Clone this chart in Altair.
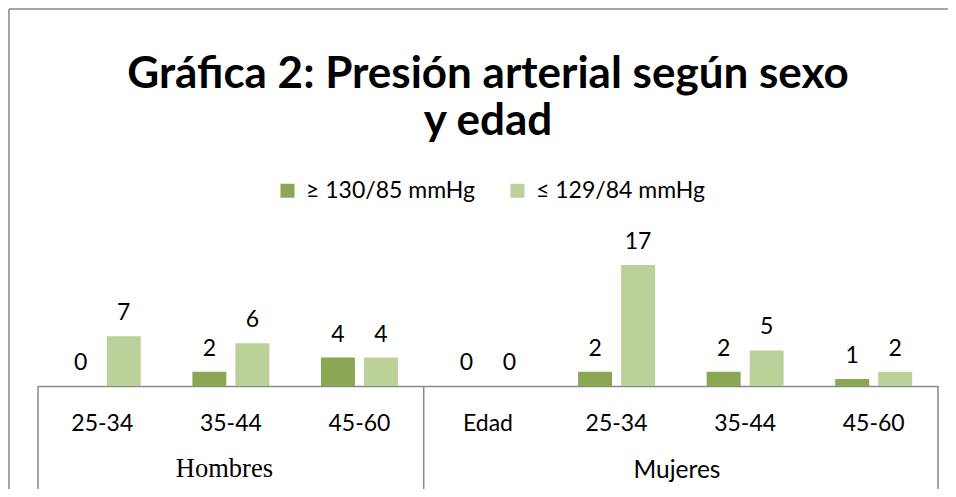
import altair as alt
import pandas as pd

keys = ["H1", "H2", "H3", "M0", "M1", "M2", "M3"]
ages = ["25-34", "35-44", "45-60", "Edad", "25-34", "35-44", "45-60"]
sexo = ["Hombres", "Hombres", "Hombres", "Mujeres", "Mujeres", "Mujeres", "Mujeres"]
alta = [0, 2, 4, 0, 2, 2, 1]
normal = [7, 6, 4, 0, 17, 5, 2]
series = ["≥ 130/85 mmHg", "≤ 129/84 mmHg"]
colors = ["#8BA753", "#BCD19A"]
title_lines = ["Gráfica 2: Presión arterial según sexo", "y edad"]

rows = []
for k, a, s, v1, v2 in zip(keys, ages, sexo, alta, normal):
    rows.append({"key": k, "edad": a, "sexo": s, "serie": series[0], "valor": v1})
    rows.append({"key": k, "edad": a, "sexo": s, "serie": series[1], "valor": v2})
df = pd.DataFrame(rows)

W, H = 900, 121
label_map = "{" + ",".join(f"'{k}':'{a}'" for k, a in zip(keys, ages)) + "}"
xscale = alt.Scale(domain=keys, paddingInner=0, paddingOuter=0)
GREY = "#898989"

x_enc = alt.X("key:N", scale=xscale, sort=keys,
              axis=alt.Axis(title=None, ticks=False, grid=False, labelAngle=0,
                            domainColor=GREY, domainWidth=1.5,
                            labelFont="Lato", labelFontSize=23, labelColor="black",
                            labelPadding=26, labelExpr=label_map + "[datum.value]"))
xoff = alt.XOffset("serie:N", sort=series,
                   scale=alt.Scale(domain=series, paddingInner=0.21, paddingOuter=0.6))
y_enc = alt.Y("valor:Q", scale=alt.Scale(domain=[0, 17], nice=False), axis=None)

bars = alt.Chart(df).mark_bar().encode(
    x=x_enc, xOffset=xoff, y=y_enc,
    color=alt.Color("serie:N", sort=series,
                    scale=alt.Scale(domain=series, range=colors),
                    legend=alt.Legend(title=None, orient="none", legendX=238, legendY=-86,
                                      direction="horizontal", symbolType="square",
                                      symbolSize=196, symbolStrokeWidth=0,
                                      labelFont="Lato", labelFontSize=23, labelColor="black",
                                      labelOffset=7, columnPadding=31, padding=0,
                                      labelLimit=400)),
)

labels = alt.Chart(df).mark_text(font="Lato", fontSize=23, color="black",
                                 baseline="alphabetic", dy=-16).encode(
    x=alt.X("key:N", scale=xscale, sort=keys), xOffset=xoff, y=y_enc,
    text="valor:Q",
)

left_edges = pd.DataFrame({"key": ["H1", "M0"]})
right_edges = pd.DataFrame({"key": ["M3"]})
rule_l = alt.Chart(left_edges).mark_rule(color=GREY, strokeWidth=1.5).encode(
    x=alt.X("key:N", scale=xscale, bandPosition=0),
    y=alt.value(H), y2=alt.value(H + 104))
rule_r = alt.Chart(right_edges).mark_rule(color=GREY, strokeWidth=1.5).encode(
    x=alt.X("key:N", scale=xscale, bandPosition=1),
    y=alt.value(H), y2=alt.value(H + 104))

hombres = alt.Chart(pd.DataFrame({"key": ["H2"], "t": ["Hombres"]})).mark_text(
    font="Liberation Serif", fontSize=26.5, color="black", baseline="alphabetic").encode(
    x=alt.X("key:N", scale=xscale, bandPosition=0.45), y=alt.value(H + 91), text="t:N")
mujeres = alt.Chart(pd.DataFrame({"key": ["M1"], "t": ["Mujeres"]})).mark_text(
    font="Lato", fontSize=24.5, color="black", baseline="alphabetic").encode(
    x=alt.X("key:N", scale=xscale, bandPosition=0.97), y=alt.value(H + 92), text="t:N")

t1 = alt.Chart(pd.DataFrame({"t": [title_lines[0]]})).mark_text(
    font="Lato", fontSize=44, fontWeight="bold", color="black", baseline="alphabetic").encode(
    x=alt.value(W / 2), y=alt.value(-177), text="t:N")
t2 = alt.Chart(pd.DataFrame({"t": [title_lines[1]]})).mark_text(
    font="Lato", fontSize=44, fontWeight="bold", color="black", baseline="alphabetic").encode(
    x=alt.value(W / 2), y=alt.value(-130), text="t:N")

frame_top = alt.Chart(pd.DataFrame({"a": [0]})).mark_rule(color=GREY, strokeWidth=1.5).encode(
    x=alt.value(-29), x2=alt.value(W + 10), y=alt.value(-256))
frame_left = alt.Chart(pd.DataFrame({"a": [0]})).mark_rule(color=GREY, strokeWidth=1.5).encode(
    x=alt.value(-29), y=alt.value(-256), y2=alt.value(H + 110))

chart = alt.layer(bars, labels, rule_l, rule_r, hombres, mujeres, t1, t2,
                  frame_top, frame_left).properties(
    width=W, height=H,
    autosize=alt.AutoSizeParams(type="none"),
    padding={"left": 30, "top": 257, "right": 10, "bottom": 103},
    background="white",
).configure_view(stroke=None)

chart.save("out.html", embed_options={"renderer": "svg", "actions": False})
